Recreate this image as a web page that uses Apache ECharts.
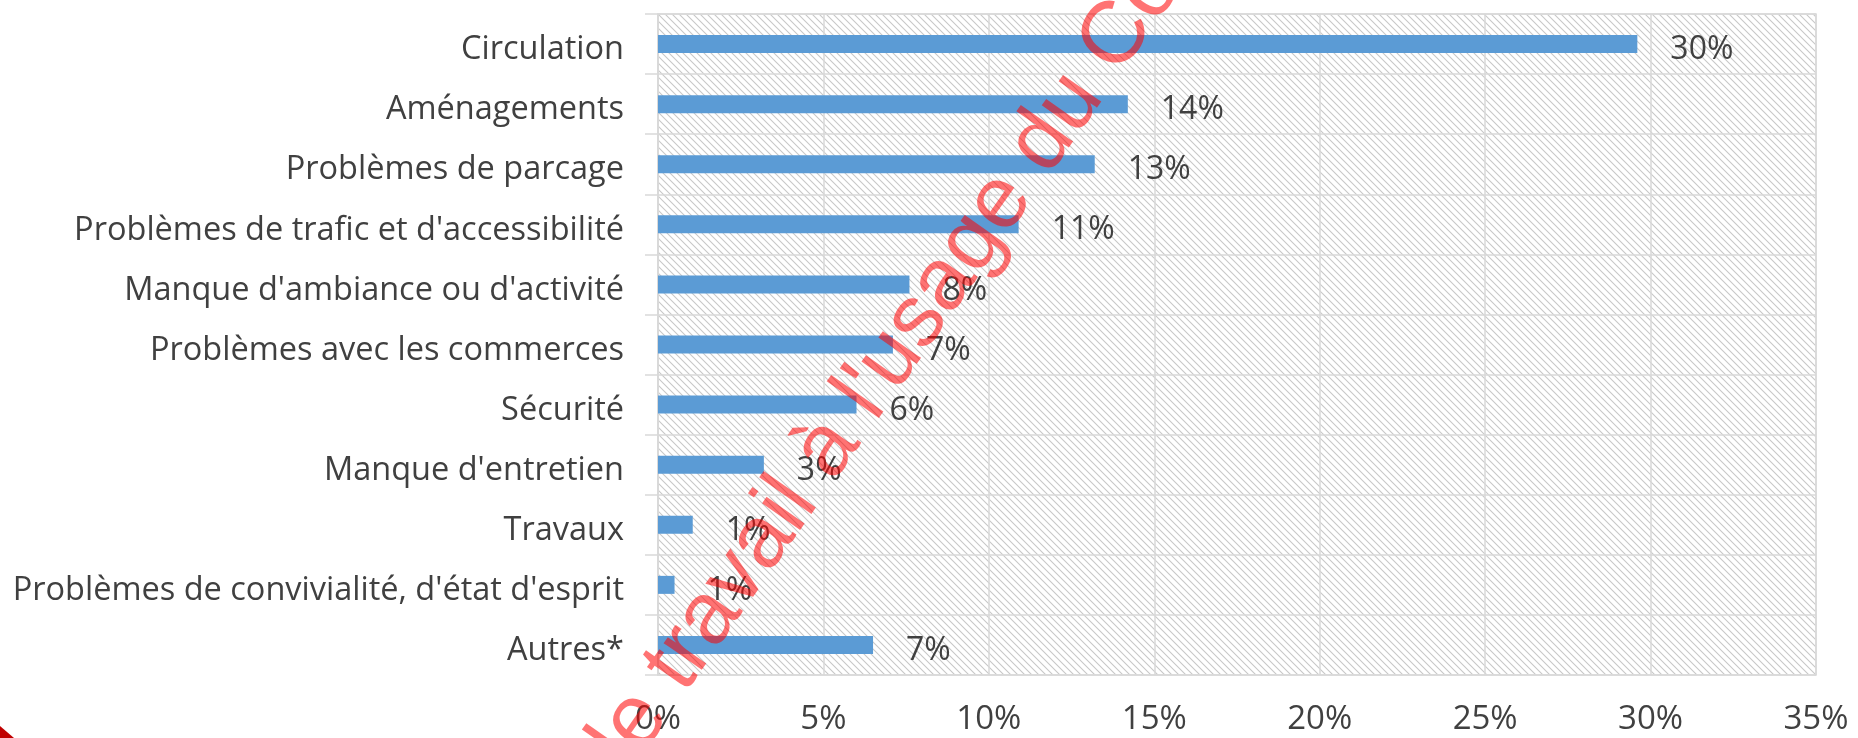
<!DOCTYPE html>
<html>
<head>
<meta charset="utf-8">
<script src="https://cdn.jsdelivr.net/npm/echarts@6/dist/echarts.min.js"></script>
<style>
  html, body { margin: 0; padding: 0; background: #fff; }
  #chart { width: 1858px; height: 738px; }
</style>
</head>
<body>
<div id="chart"></div>
<script>
const categories = [
  "Circulation",
  "Aménagements",
  "Problèmes de parcage",
  "Problèmes de trafic et d'accessibilité",
  "Manque d'ambiance ou d'activité",
  "Problèmes avec les commerces",
  "Sécurité",
  "Manque d'entretien",
  "Travaux",
  "Problèmes de convivialité, d'état d'esprit",
  "Autres*"
];
const shares = [29.6, 14.2, 13.2, 10.9, 7.6, 7.1, 6.0, 3.2, 1.05, 0.5, 6.5];
const xTicks = [0, 5, 10, 15, 20, 25, 30, 35];
const watermark = "de travail à l'usage du Conseil";

const FONT = "'Open Sans', 'Noto Sans', sans-serif";
const GRID_COLOR = "#d9d9d9";

// diagonal hatch for the plot background
function hatch() {
  const s = 7;
  const c = document.createElement("canvas");
  c.width = s;
  c.height = s;
  const ctx = c.getContext("2d");
  ctx.fillStyle = "#ffffff";
  ctx.fillRect(0, 0, s, s);
  ctx.strokeStyle = "#c8c8c8";
  ctx.lineWidth = 1.1;
  ctx.beginPath();
  ctx.moveTo(0, 0); ctx.lineTo(s, s);
  ctx.moveTo(-1, s - 1); ctx.lineTo(1, s + 1);
  ctx.moveTo(s - 1, -1); ctx.lineTo(s + 1, 1);
  ctx.stroke();
  return c;
}

const chart = echarts.init(document.getElementById("chart"));
const angle = 54.9 * Math.PI / 180;

chart.setOption({
  animation: false,
  grid: {
    left: 658, right: 42, top: 14, bottom: 63,
    show: true,
    backgroundColor: { image: hatch(), repeat: "repeat" },
    borderColor: GRID_COLOR,
    borderWidth: 1.5
  },
  xAxis: {
    type: "value",
    min: xTicks[0],
    max: xTicks[xTicks.length - 1],
    interval: 5,
    axisLine: { show: false },
    axisTick: { show: false },
    splitLine: { lineStyle: { color: GRID_COLOR, width: 1.5 } },
    axisLabel: {
      margin: 28,
      color: "#404040",
      fontFamily: FONT,
      fontSize: 33,
      formatter: (v) => v + "%"
    }
  },
  yAxis: {
    type: "category",
    inverse: true,
    data: categories,
    axisLine: { show: true, lineStyle: { color: GRID_COLOR, width: 1.5 } },
    axisTick: { show: true, length: 13, lineStyle: { color: GRID_COLOR, width: 1.5 } },
    splitLine: { show: true, lineStyle: { color: GRID_COLOR, width: 1.5 } },
    axisLabel: {
      margin: 34,
      color: "#404040",
      fontFamily: FONT,
      fontSize: 32.5,
      verticalAlign: "top",
      lineHeight: 12
    }
  },
  series: [
    {
      type: "bar",
      data: shares,
      barWidth: 18,
      itemStyle: { color: "#5b9bd5" },
      label: {
        show: true,
        position: "right",
        distance: 33,
        color: "#404040",
        fontFamily: FONT,
        fontSize: 32,
        verticalAlign: "top",
        lineHeight: 12,
        formatter: (p) => Math.round(p.value) + "%"
      }
    }
  ],
  graphic: [
    {
      type: "text",
      x: 594,
      y: 781,
      rotation: angle,
      z: 100,
      silent: true,
      style: {
        text: watermark,
        font: "88px 'Liberation Sans', Arial, sans-serif",
        fill: "rgba(255, 0, 0, 0.55)",
        verticalAlign: "middle",
        align: "left"
      }
    },
    {
      type: "polygon",
      z: 100,
      silent: true,
      shape: { points: [[0, 726], [0, 738], [14, 738]] },
      style: { fill: "#c00000" }
    }
  ]
});
</script>
</body>
</html>
